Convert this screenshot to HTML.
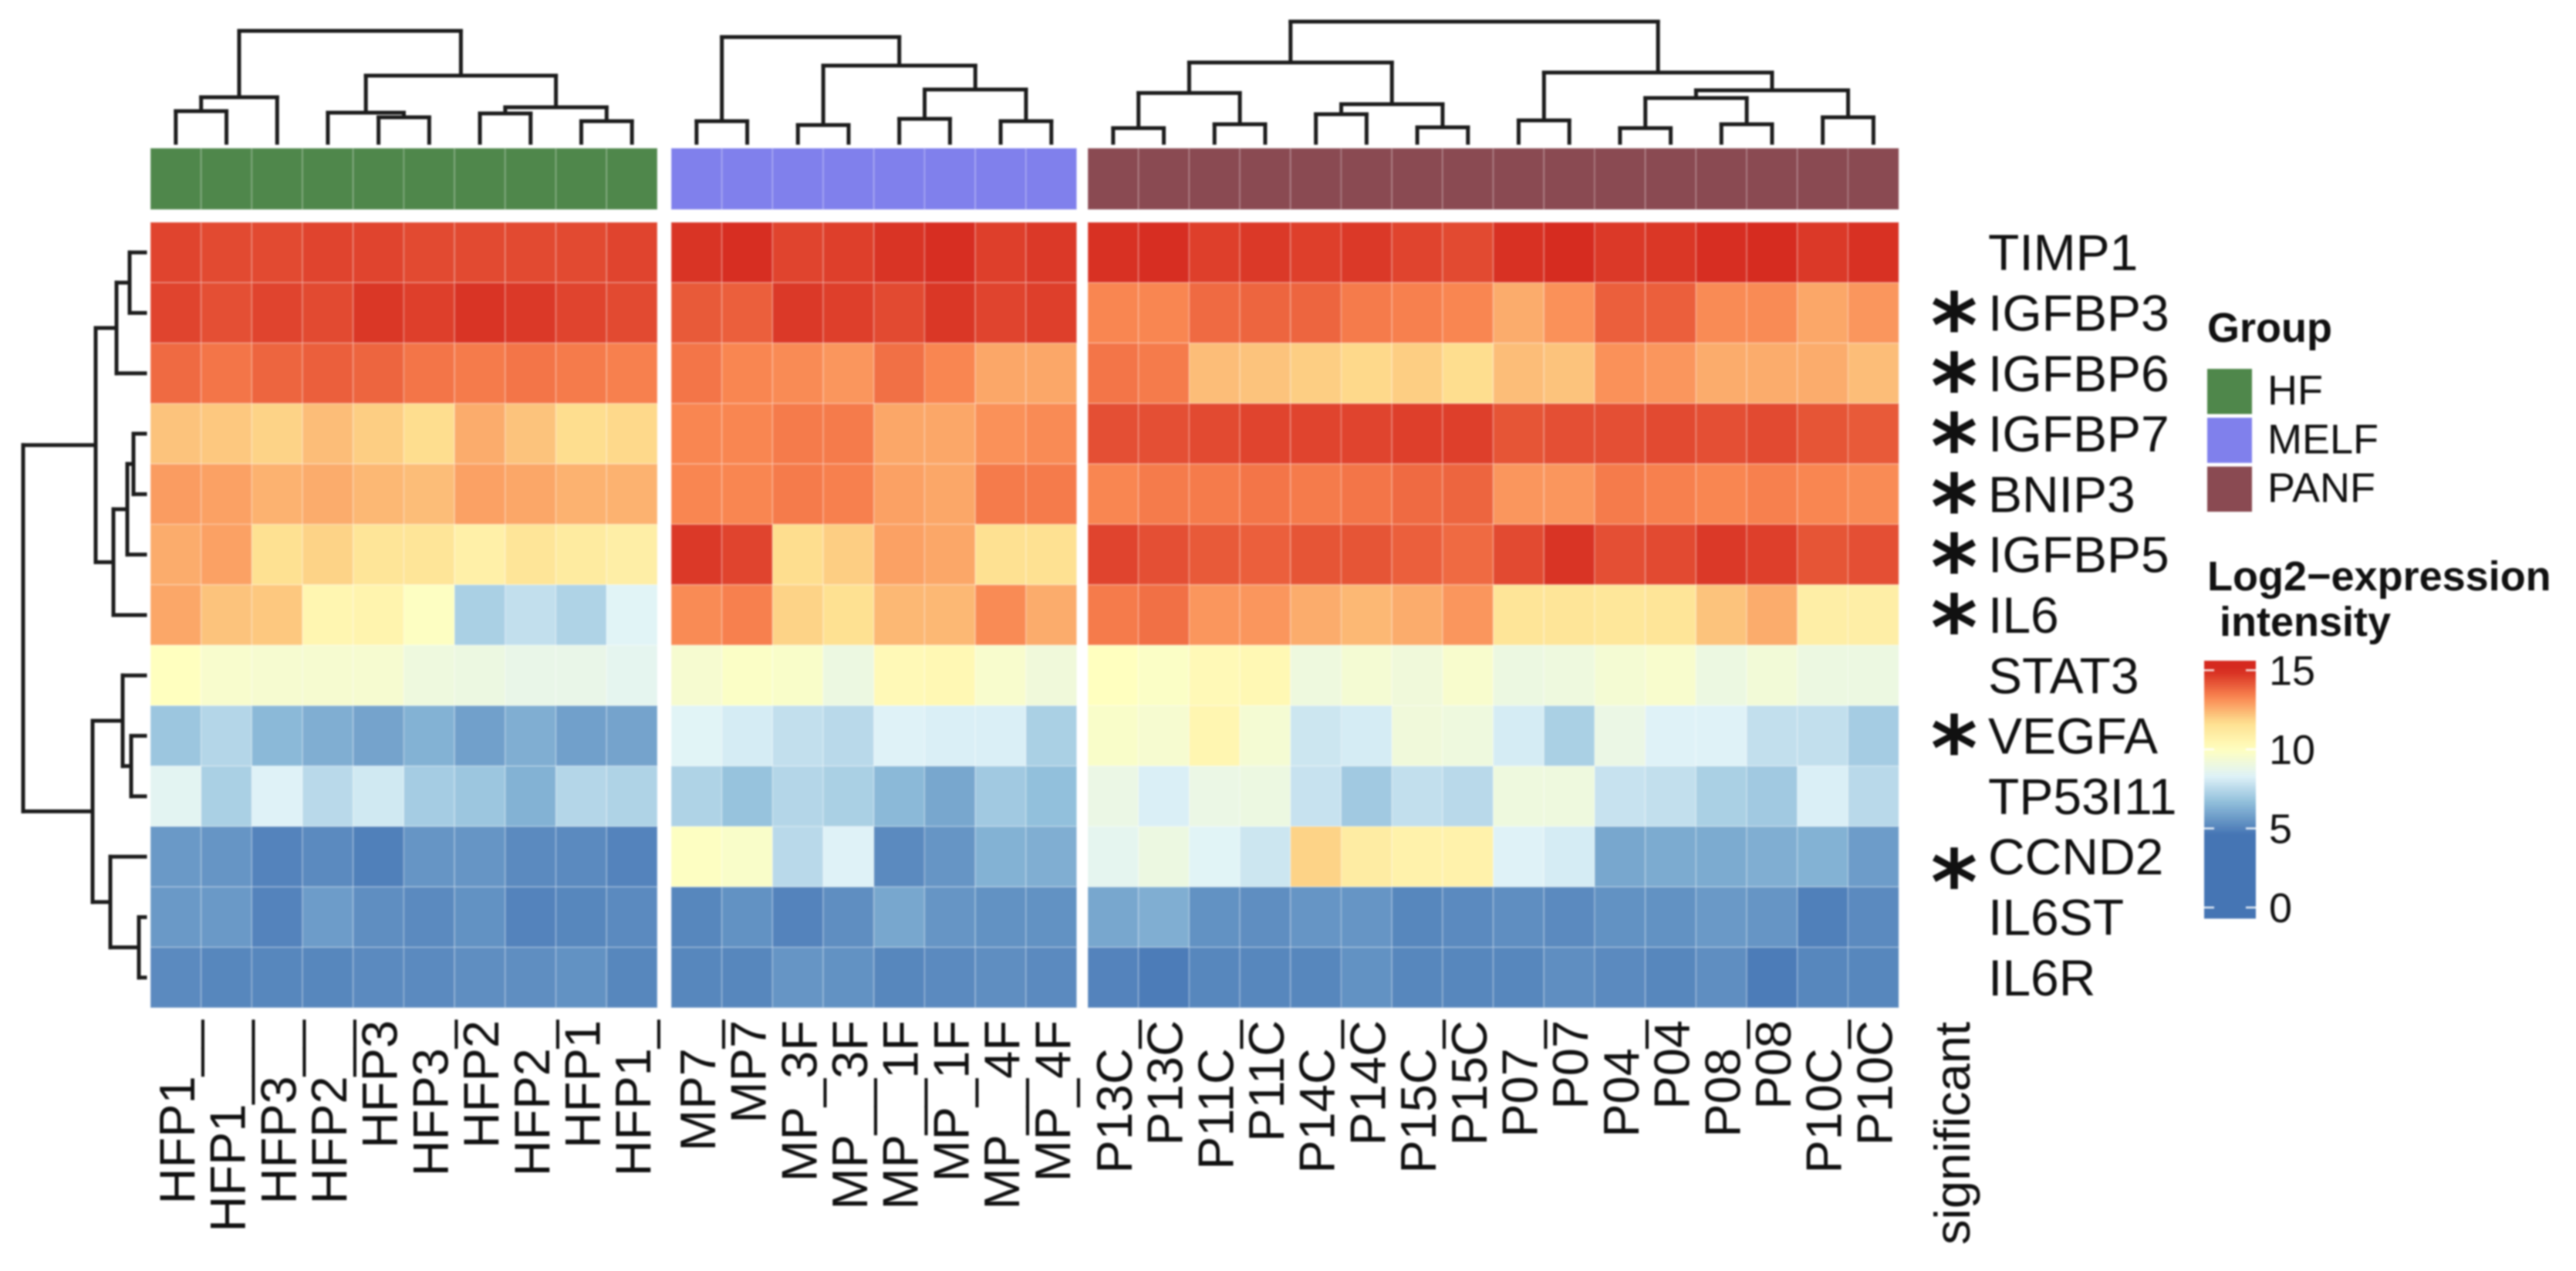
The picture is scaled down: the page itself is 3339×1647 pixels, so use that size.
<!DOCTYPE html>
<html lang="en">
<head>
<meta charset="utf-8">
<title>Clustered expression heatmap</title>
<style>
html,body{margin:0;padding:0;background:#fff;}
#chart{display:block;width:3339px;height:1647px;filter:blur(1.1px);}
text{font-family:"Liberation Sans",Arial,sans-serif;fill:#111;}
</style>
</head>
<body>
<svg id="chart" xmlns="http://www.w3.org/2000/svg" width="3339" height="1647" viewBox="0 0 3339 1647">
<rect x="0" y="0" width="3339" height="1647" fill="#fff"/>
<g id="layer-cells"></g>
<g id="layer-anno"></g>
<g id="layer-dend"></g>
<g id="layer-labels"></g>
<g id="layer-legend">
<text x="2861" y="443" font-size="54" font-weight="bold">Group</text>
<text x="2861" y="765" font-size="54" font-weight="bold">Log2−expression</text>
<text x="2877" y="824" font-size="54" font-weight="bold">intensity</text>
</g>
</svg>
<script>
const NS = 'http://www.w3.org/2000/svg';

const geneNames = ['TIMP1','IGFBP3','IGFBP6','IGFBP7','BNIP3','IGFBP5','IL6','STAT3','VEGFA','TP53I11','CCND2','IL6ST','IL6R'];
const geneSignificant = [0,1,1,1,1,1,1,0,1,0,1,0,0];
const groupNames = ['HF','MELF','PANF'];
const groupColors = ['#4f874b','#8080ec','#8a4a52'];
const hfSamples = ['HFP1__','HFP1___','HFP3__','HFP2__','HFP3','HFP3_','HFP2','HFP2_','HFP1','HFP1_'];
const melfSamples = ['MP7_','MP7','MP_3F','MP__3F','MP__1F','MP_1F','MP__4F','MP_4F'];
const panfSamples = ['P13C_','P13C','P11C_','P11C','P14C_','P14C','P15C_','P15C','P07_','P07','P04_','P04','P08_','P08','P10C_','P10C'];
const colorbarTicks = [15,10,5,0];
const scaleValues = [0,4.6,6.67,8.33,10,11.67,13.33,15];
const scaleColors = ['#4575b4','#4575b4','#91bfdb','#e0f3f8','#ffffbf','#fee090','#f98450','#d5291f'];

const hfValues = [
[14.5,14.4,14.4,14.5,14.5,14.4,14.4,14.4,14.4,14.5],
[14.5,14.3,14.5,14.4,14.75,14.6,14.8,14.7,14.5,14.4],
[13.8,13.6,13.9,14.0,13.9,13.6,13.5,13.6,13.5,13.4],
[12.2,12.1,11.9,12.3,12.0,11.7,12.6,12.2,11.7,11.8],
[12.9,12.8,12.5,12.6,12.4,12.3,12.8,12.7,12.5,12.5],
[12.6,12.8,11.6,11.9,11.4,11.4,10.8,11.4,11.1,10.9],
[12.7,12.2,12.1,10.5,10.6,9.9,7.2,7.7,7.3,8.4],
[10.0,9.6,9.5,9.5,9.5,9.1,9.0,8.8,8.8,8.6],
[6.9,7.4,6.5,6.2,5.9,6.3,5.8,6.2,5.8,5.9],
[8.5,7.2,8.3,7.5,8.0,7.1,6.9,6.3,7.4,7.3],
[5.6,5.5,5.0,5.2,4.9,5.5,5.5,5.2,5.2,5.0],
[5.6,5.6,5.0,5.7,5.3,5.2,5.4,5.0,5.1,5.2],
[5.2,5.1,5.1,5.1,5.2,5.2,5.3,5.3,5.4,5.1]
];
const melfValues = [
[14.8,14.9,14.5,14.6,14.8,14.9,14.6,14.7],
[14.1,14.0,14.7,14.6,14.4,14.75,14.5,14.6],
[13.6,13.3,13.2,13.0,13.7,13.3,12.7,12.7],
[13.3,13.3,13.5,13.5,12.7,12.7,13.1,13.2],
[13.3,13.3,13.5,13.4,12.8,12.7,13.5,13.5],
[14.7,14.5,11.7,12.0,12.8,12.7,11.6,11.6],
[13.2,13.4,11.9,11.6,12.4,12.4,13.2,12.6],
[9.5,9.8,9.7,9.0,10.3,10.4,9.6,9.2],
[8.4,8.1,7.7,7.5,8.3,8.2,8.2,7.2],
[7.3,6.8,7.4,7.2,6.5,6.0,7.0,6.7],
[9.9,9.7,7.5,8.3,5.2,5.5,6.3,6.2],
[5.1,5.4,5.0,5.3,6.0,5.5,5.4,5.4],
[5.1,5.1,5.5,5.4,5.1,5.2,5.3,5.2]
];
const panfValues = [
[14.85,14.9,14.6,14.7,14.6,14.7,14.5,14.4,14.85,14.95,14.7,14.75,14.9,14.95,14.7,14.85],
[13.3,13.3,13.8,13.9,13.9,13.5,13.4,13.3,12.6,13.1,14.0,14.0,13.2,13.2,12.7,13.0],
[13.6,13.5,12.3,12.2,12.0,11.8,12.0,11.7,12.3,12.2,13.1,13.0,12.6,12.6,12.6,12.3],
[14.3,14.3,14.4,14.5,14.5,14.5,14.6,14.6,14.2,14.3,14.3,14.4,14.3,14.4,14.2,14.1],
[13.3,13.5,13.5,13.6,13.5,13.6,13.8,13.9,13.0,13.0,13.5,13.4,13.3,13.4,13.3,13.2],
[14.5,14.3,14.1,14.0,14.2,14.2,14.0,13.8,14.4,14.8,14.3,14.4,14.7,14.6,14.2,14.3],
[13.5,13.7,13.0,13.0,12.6,12.4,12.6,13.0,11.4,11.4,11.3,11.4,12.2,12.6,10.9,10.9],
[10.0,9.8,10.3,10.4,9.1,9.4,9.2,9.6,9.0,9.1,9.4,9.6,9.0,9.3,9.0,9.0],
[9.7,9.5,10.5,9.4,7.9,8.1,9.2,9.1,8.1,7.2,8.9,8.3,8.3,7.7,7.7,7.1],
[8.9,8.2,8.9,9.0,7.8,7.0,7.7,7.5,9.1,9.1,7.8,7.7,7.2,7.0,8.2,7.5],
[8.6,9.0,8.4,7.9,11.9,11.0,10.7,10.7,8.3,8.1,6.0,6.1,6.1,6.2,6.3,5.7],
[6.0,6.2,5.4,5.3,5.5,5.5,5.1,5.2,5.3,5.2,5.4,5.4,5.6,5.5,4.9,5.2],
[5.0,4.8,5.1,5.1,5.1,5.4,5.1,5.1,5.1,5.3,5.2,5.1,5.3,4.8,5.1,5.1]
];

/* dendrogram trees: [merge distance, left, right]; a number is a leaf index */
const hfTree = [14.5,[5.9,[4.1,0,1],2],[8.7,[3.9,3,[3.3,4,5]],[4.6,[3.8,6,7],[2.8,8,9]]]];
const melfTree = [13.7,[2.8,0,1],[10,[2.3,2,3],[6.9,[3.1,4,5],[2.8,6,7]]]];
const panfTree = [15.7,[10.4,[6.45,[1.9,0,1],[2.4,2,3]],[5,[3.7,4,5],[2,6,7]]],[9.1,[2.9,8,9],[6.8,[5.8,[1.9,10,11],[2.4,12,13]],[3.3,14,15]]]];
const geneTree = [15.8,[6.4,[3.7,[2,0,1],2],[4.1,[2.3,[1.5,3,4],5],6]],[6.8,[2.9,7,[1.8,8,9]],[4.5,10,[0.8,11,12]]]];

/* axis functions */
const panelLeft = [195,870,1410];
const colWidth = 65.7;
const rowHeight = 78.3;
const heatTop = 288;
function colEdge(panel, col){ return panelLeft[panel] + col * colWidth; }
function colCenter(panel, col){ return colEdge(panel, col) + colWidth / 2; }
function rowEdge(row){ return heatTop + row * rowHeight; }
function rowCenter(row){ return rowEdge(row) + rowHeight / 2; }
function topDendY(d){ return 185 - d * 10; }
function rowDendX(d){ return 188 - d * 10; }
function colorbarY(v){ return 1176 - v * 20.5; }

function hexToRgb(h){ return [parseInt(h.slice(1,3),16),parseInt(h.slice(3,5),16),parseInt(h.slice(5,7),16)]; }
function valueColor(v){
  if (v <= scaleValues[0]) return scaleColors[0];
  for (let i = 1; i < scaleValues.length; i++) {
    if (v <= scaleValues[i]) {
      const t = (v - scaleValues[i-1]) / (scaleValues[i] - scaleValues[i-1]);
      const a = hexToRgb(scaleColors[i-1]);
      const b = hexToRgb(scaleColors[i]);
      return 'rgb(' + a.map((c,k) => Math.round(c + (b[k]-c)*t)).join(',') + ')';
    }
  }
  return scaleColors[scaleColors.length-1];
}
function make(tag, attrs, parent){
  const el = document.createElementNS(NS, tag);
  for (const k in attrs) el.setAttribute(k, attrs[k]);
  parent.appendChild(el);
  return el;
}

const cellsLayer = document.getElementById('layer-cells');
const annoLayer = document.getElementById('layer-anno');
const dendLayer = document.getElementById('layer-dend');
const labelsLayer = document.getElementById('layer-labels');
const legendLayer = document.getElementById('layer-legend');

const panelValues = [hfValues, melfValues, panfValues];
const panelSamples = [hfSamples, melfSamples, panfSamples];
const panelTrees = [hfTree, melfTree, panfTree];

panelValues.forEach(function(matrix, p){
  matrix.forEach(function(rowVals, r){
    rowVals.forEach(function(v, c){
      const cell = make('rect', {x: colEdge(p,c), y: rowEdge(r), width: colWidth, height: rowHeight, fill: valueColor(v), stroke: 'rgba(255,255,255,0.2)', 'stroke-width': 2}, cellsLayer);
      
      
    });
  });
  panelSamples[p].forEach(function(name, c){
    const block = make('rect', {x: colEdge(p,c), y: 192, width: colWidth, height: 79.5, fill: groupColors[p], stroke: 'rgba(255,255,255,0.18)', 'stroke-width': 2}, annoLayer);
    
    
    const bx = colCenter(p,c) + 24;
    const label = make('text', {x: bx, y: 1322, 'font-size': 65, 'text-anchor': 'end', transform: 'rotate(-90 ' + bx + ' 1322)'}, labelsLayer);
    label.textContent = name;
    
    
  });
});

function segment(x1, y1, x2, y2){
  const seg = make('line', {x1: x1, y1: y1, x2: x2, y2: y2, stroke: '#1c1c1c', 'stroke-width': 5, 'stroke-linecap': 'square'}, dendLayer);
  
  
}
function drawTopTree(node, panel){
  if (typeof node === 'number') return {pos: colCenter(panel, node), d: 0};
  const a = drawTopTree(node[1], panel);
  const b = drawTopTree(node[2], panel);
  const y = topDendY(node[0]);
  segment(a.pos, topDendY(a.d), a.pos, y);
  segment(b.pos, topDendY(b.d), b.pos, y);
  segment(a.pos, y, b.pos, y);
  return {pos: (a.pos + b.pos) / 2, d: node[0]};
}
function drawRowTree(node){
  if (typeof node === 'number') return {pos: rowCenter(node), d: 0};
  const a = drawRowTree(node[1]);
  const b = drawRowTree(node[2]);
  const x = rowDendX(node[0]);
  segment(rowDendX(a.d), a.pos, x, a.pos);
  segment(rowDendX(b.d), b.pos, x, b.pos);
  segment(x, a.pos, x, b.pos);
  return {pos: (a.pos + b.pos) / 2, d: node[0]};
}
panelTrees.forEach(function(tree, p){ drawTopTree(tree, p); });
drawRowTree(geneTree);

geneNames.forEach(function(name, r){
  const label = make('text', {x: 2577, y: rowCenter(r) + 23, 'font-size': 66}, labelsLayer);
  label.textContent = name;
  
  
  if (geneSignificant[r]) {
    const shift = r === 10 ? 13 : -4;
    const star = make('text', {x: 2533, y: rowCenter(r) + shift + 61, 'font-size': 116, 'font-weight': 'bold', 'text-anchor': 'middle', style: 'font-family:"DejaVu Sans",sans-serif'}, labelsLayer);
    star.textContent = '*';
    
    
  }
});
const sigLabel = make('text', {x: 2553, y: 1324, 'font-size': 65, 'text-anchor': 'end', transform: 'rotate(-90 2553 1324)'}, labelsLayer);
sigLabel.textContent = 'significant';



/* group legend */
groupNames.forEach(function(name, i){
  const swatch = make('rect', {x: 2861, y: 478 + i * 63.3, width: 58, height: 58.5, fill: groupColors[i]}, legendLayer);
  
  
  const text = make('text', {x: 2939, y: 524 + i * 63.3, 'font-size': 54}, legendLayer);
  text.textContent = name;
  
  
});

/* colorbar */
const defs = make('defs', {}, legendLayer);
const grad = make('linearGradient', {id: 'cbar', x1: 0, y1: 1, x2: 0, y2: 0}, defs);
const cbarMin = -0.7;
const cbarMax = 15.6;
for (let s = 0; s <= 40; s++) {
  const v = cbarMin + (cbarMax - cbarMin) * s / 40;
  make('stop', {offset: (s / 40 * 100) + '%', 'stop-color': valueColor(v)}, grad);
}
const bar = make('rect', {x: 2857, y: colorbarY(cbarMax), width: 67, height: colorbarY(cbarMin) - colorbarY(cbarMax), fill: 'url(#cbar)'}, legendLayer);


colorbarTicks.forEach(function(t){
  const y = colorbarY(t);
  const tickL = make('line', {x1: 2857, x2: 2870, y1: y, y2: y, stroke: '#fff', 'stroke-width': 2.5, 'stroke-opacity': 0.85}, legendLayer);
  
  
  const tickR = make('line', {x1: 2911, x2: 2924, y1: y, y2: y, stroke: '#fff', 'stroke-width': 2.5, 'stroke-opacity': 0.85}, legendLayer);
  
  
  const tl = make('text', {x: 2941, y: y + 19, 'font-size': 54}, legendLayer);
  tl.textContent = String(t);
  
  
});
</script>
</body>
</html>
